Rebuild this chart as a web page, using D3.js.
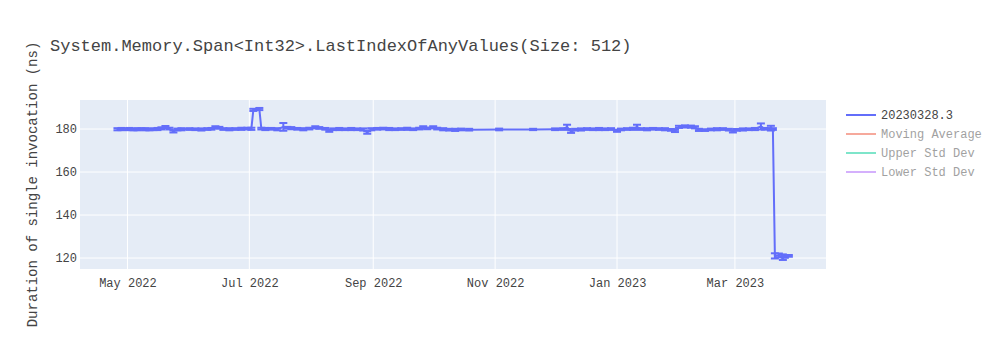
<!DOCTYPE html>
<html>
<head>
<meta charset="utf-8">
<script src="https://cdn.jsdelivr.net/npm/d3@7"></script>
<style>
  html, body { margin: 0; padding: 0; background: #fff; }
  svg { display: block; }
  text { font-family: "Liberation Mono", "Courier New", monospace; fill: #444; }
</style>
</head>
<body>
<svg id="chart" width="1000" height="350"></svg>
<script>
const title = "System.Memory.Span<Int32>.LastIndexOfAnyValues(Size: 512)";
const yAxisTitle = "Duration of single invocation (ns)";
const seriesName = "20230328.3";
const legendOnlyNames = ["Moving Average", "Upper Std Dev", "Lower Std Dev"];
const legendOnlyColors = ["#EF553B", "#00cc96", "#ab63fa"];
const yTicks = [120, 140, 160, 180];

const dates = [
  "2022-04-26","2022-04-28","2022-04-30","2022-05-02","2022-05-04","2022-05-06","2022-05-08",
  "2022-05-10","2022-05-12","2022-05-14","2022-05-16","2022-05-18","2022-05-20","2022-05-22","2022-05-24",
  "2022-05-26","2022-05-28","2022-06-01","2022-06-04","2022-06-07","2022-06-10","2022-06-12","2022-06-14",
  "2022-06-16","2022-06-18","2022-06-21","2022-06-24","2022-06-27","2022-06-30","2022-07-02","2022-07-03",
  "2022-07-06","2022-07-07","2022-07-09","2022-07-12","2022-07-15","2022-07-18","2022-07-20","2022-07-22",
  "2022-07-25","2022-07-28","2022-07-31","2022-08-03","2022-08-05","2022-08-08","2022-08-10","2022-08-12",
  "2022-08-15","2022-08-18","2022-08-21","2022-08-24","2022-08-27","2022-08-29","2022-08-31","2022-09-03",
  "2022-09-06","2022-09-09","2022-09-12","2022-09-15","2022-09-18","2022-09-21","2022-09-24","2022-09-26",
  "2022-09-28","2022-10-01","2022-10-03","2022-10-06","2022-10-09","2022-10-12","2022-10-15","2022-10-19",
  "2022-11-03","2022-11-20","2022-12-01","2022-12-05","2022-12-07","2022-12-09","2022-12-11","2022-12-14",
  "2022-12-17","2022-12-20","2022-12-23","2022-12-26","2022-12-29","2023-01-01","2023-01-03","2023-01-06",
  "2023-01-09","2023-01-11","2023-01-13","2023-01-16","2023-01-19","2023-01-22","2023-01-25","2023-01-28",
  "2023-01-30","2023-02-01","2023-02-04","2023-02-07","2023-02-09","2023-02-11","2023-02-14","2023-02-17",
  "2023-02-20","2023-02-23","2023-02-26","2023-02-28","2023-03-02","2023-03-05","2023-03-08","2023-03-11",
  "2023-03-14","2023-03-16","2023-03-19","2023-03-20","2023-03-21","2023-03-23","2023-03-25","2023-03-26",
  "2023-03-28"
];
const values = [
  179.9,180.0,179.9,180.0,179.8,179.9,180.0,
  179.9,179.8,179.9,180.0,180.3,180.9,180.2,178.9,
  179.8,179.9,180.0,179.9,179.8,180.0,180.1,180.8,
  180.6,180.0,179.9,180.0,180.1,180.2,180.1,188.9,
  189.3,180.2,180.0,180.1,179.9,181.0,180.6,180.4,
  180.1,179.9,180.2,180.8,180.5,180.1,179.2,179.9,
  180.0,179.9,180.0,179.9,179.8,178.4,179.9,180.1,
  180.2,180.0,179.9,180.0,180.1,179.9,180.2,180.8,
  180.3,180.8,180.2,179.9,179.7,179.6,179.8,179.7,
  179.8,179.8,179.9,180.0,181.0,178.8,179.7,179.8,
  180.0,179.9,180.0,179.9,180.0,179.2,179.8,180.0,
  180.1,181.0,180.0,179.9,180.1,180.0,179.9,179.6,
  179.1,181.0,181.2,181.1,180.8,179.6,179.5,179.8,
  179.9,180.0,179.7,178.9,179.6,179.8,179.9,180.0,
  181.2,180.1,180.4,180.0,121.0,121.2,120.4,120.7,
  121.0
];
const errors = [
  0.5,0.5,0.4,0.5,0.4,0.5,0.4,
  0.5,0.4,0.4,0.5,0.5,0.5,0.4,0.5,
  0.4,0.5,0.4,0.4,0.5,0.4,0.4,0.5,
  0.4,0.4,0.5,0.4,0.5,0.4,0.5,0.5,
  0.5,0.4,0.5,0.4,0.5,1.8,0.4,0.5,
  0.4,0.5,0.4,0.5,0.4,0.4,0.5,0.4,
  0.5,0.4,0.5,0.4,0.5,0.6,0.5,0.4,
  0.4,0.5,0.4,0.4,0.5,0.4,0.4,0.5,
  0.4,0.5,0.4,0.5,0.4,0.5,0.4,0.4,
  0.4,0.3,0.4,0.4,1.0,0.6,0.4,0.5,
  0.4,0.4,0.5,0.4,0.4,0.5,0.4,0.4,
  0.5,1.0,0.4,0.5,0.4,0.4,0.5,0.4,
  0.5,0.5,0.5,0.5,0.5,0.5,0.4,0.4,
  0.5,0.4,0.4,0.5,0.4,0.5,0.4,0.5,
  1.4,0.4,1.1,0.4,1.2,0.9,1.3,0.6,
  0.4
];

const parse = d3.utcParse("%Y-%m-%d");
const data = dates.map((d, i) => ({ date: parse(d), value: values[i], err: errors[i] }));

const svg = d3.select("#chart");
const W = 1000, H = 350;
const plot = { left: 80, right: 826, top: 100, bottom: 269 };
const lineColor = "#636efa";

const x = d3.scaleUtc()
  .domain([new Date(Date.UTC(2022, 3, 7, 6)), new Date(Date.UTC(2023, 3, 15, 14))])
  .range([plot.left, plot.right]);
const y = d3.scaleLinear()
  .domain([114.9, 193.5])
  .range([plot.bottom, plot.top]);

svg.append("rect").attr("width", W).attr("height", H).attr("fill", "#fff");
svg.append("rect")
  .attr("x", plot.left).attr("y", plot.top)
  .attr("width", plot.right - plot.left).attr("height", plot.bottom - plot.top)
  .attr("fill", "#E5ECF6");

// grid + axes
const xTicks = x.ticks(d3.utcMonth.every(2));
const xAxis = d3.axisBottom(x).tickValues(xTicks).tickFormat(d3.utcFormat("%b %Y")).tickSize(0).tickPadding(0);
const gx = svg.append("g").attr("transform", `translate(0,${plot.bottom})`).call(xAxis);
gx.select(".domain").remove();
gx.selectAll("text").attr("dy", null).attr("y", 18).attr("font-size", 12)
  .attr("font-family", '"Liberation Mono", "Courier New", monospace').attr("fill", "#444");

const yAxis = d3.axisLeft(y).tickValues(yTicks).tickSize(0).tickPadding(0);
const gy = svg.append("g").attr("transform", `translate(${plot.left},0)`).call(yAxis);
gy.select(".domain").remove();
gy.selectAll("text").attr("x", -3).attr("dy", "0.32em").attr("font-size", 12)
  .attr("font-family", '"Liberation Mono", "Courier New", monospace').attr("fill", "#444");

const grid = svg.append("g");
grid.selectAll("line.gx").data(xTicks).join("line")
  .attr("x1", d => x(d)).attr("x2", d => x(d))
  .attr("y1", plot.top).attr("y2", plot.bottom)
  .attr("stroke", "#fff").attr("stroke-width", 1);
grid.selectAll("line.gy").data(yTicks).join("line")
  .attr("x1", plot.left).attr("x2", plot.right)
  .attr("y1", d => y(d)).attr("y2", d => y(d))
  .attr("stroke", "#fff").attr("stroke-width", 1);

// clip
svg.append("clipPath").attr("id", "clip").append("rect")
  .attr("x", plot.left).attr("y", plot.top)
  .attr("width", plot.right - plot.left).attr("height", plot.bottom - plot.top);
const g = svg.append("g").attr("clip-path", "url(#clip)");

// error bars
const eb = g.append("g").attr("stroke", lineColor).attr("stroke-width", 2).attr("fill", "none");
data.forEach(d => {
  const cx = x(d.date), y0 = y(d.value - d.err), y1 = y(d.value + d.err);
  eb.append("line").attr("x1", cx).attr("x2", cx).attr("y1", y0).attr("y2", y1);
  eb.append("line").attr("x1", cx - 4).attr("x2", cx + 4).attr("y1", y0).attr("y2", y0);
  eb.append("line").attr("x1", cx - 4).attr("x2", cx + 4).attr("y1", y1).attr("y2", y1);
});

// line
g.append("path").datum(data)
  .attr("d", d3.line().x(d => x(d.date)).y(d => y(d.value)))
  .attr("fill", "none").attr("stroke", lineColor).attr("stroke-width", 2)
  .attr("stroke-linejoin", "round");

// title
svg.append("text").attr("x", 50).attr("y", 51).attr("font-size", 17).text(title);

// y axis title
svg.append("text")
  .attr("transform", `translate(37,${(plot.top + plot.bottom) / 2}) rotate(-90)`)
  .attr("text-anchor", "middle").attr("font-size", 14).text(yAxisTitle);

// legend
const legendItems = [{ name: seriesName, color: lineColor, opacity: 1 }]
  .concat(legendOnlyNames.map((n, i) => ({ name: n, color: legendOnlyColors[i], opacity: 0.5 })));
const lg = svg.append("g");
legendItems.forEach((it, i) => {
  const yy = 115 + i * 19;
  const gi = lg.append("g").attr("opacity", it.opacity);
  gi.append("line").attr("x1", 846).attr("x2", 876).attr("y1", yy).attr("y2", yy)
    .attr("stroke", it.color).attr("stroke-width", 2);
  gi.append("text").attr("x", 881).attr("y", yy).attr("dy", "0.35em").attr("font-size", 12).text(it.name);
});
</script>
</body>
</html>
